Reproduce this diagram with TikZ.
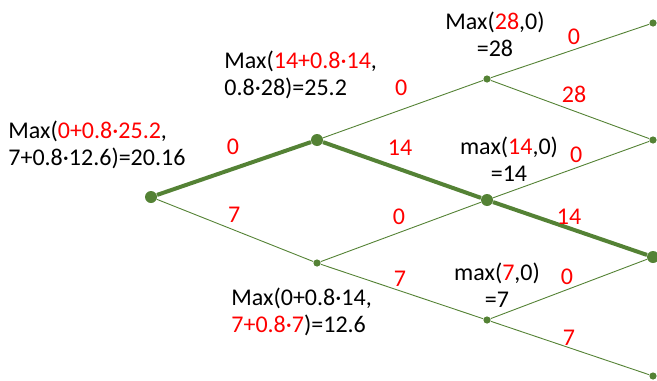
\documentclass[tikz,border=0pt]{standalone}
\usepackage{fontspec}
\setmainfont{Carlito}
\usepackage{xcolor}
\definecolor{treegreen}{RGB}{84,130,53}
\definecolor{payred}{RGB}{255,0,0}
\newcommand{\rd}[1]{\textcolor{payred}{#1}}

\begin{document}
\begin{tikzpicture}[x=0.5pt,y=-0.5pt,
    font=\fontsize{12}{13.5}\selectfont,
    dot/.style={circle,fill=treegreen,inner sep=0pt,minimum size=3.6pt},
    bigdot/.style={circle,fill=treegreen,inner sep=0pt,minimum size=6pt},
    thin edge/.style={draw=treegreen,line width=0.45pt},
    thick edge/.style={draw=treegreen,line width=2pt},
    pay/.style={text=payred,midway,inner sep=0pt},
    val/.style={align=left,anchor=west,inner sep=0pt},
    cval/.style={align=center,inner sep=0pt}]
    \useasboundingbox (0,0) rectangle (657,380);
    % tree nodes
    \node[bigdot] (root) at (151,197){};
    \node[bigdot] (u) at (317,140){};
    \node[dot] (d) at (317,263){};
    \node[dot] (uu) at (487,79){};
    \node[bigdot] (ud) at (487,200){};
    \node[dot] (dd) at (487,320){};
    \node[dot] (uuu) at (653,23){};
    \node[dot] (uud) at (653,140){};
    \node[bigdot] (udd) at (653,257){};
    \node[dot] (ddd) at (653,376){};
    % edges
    \draw[thick edge] (root) -- (u) node[pay,yshift=10.75pt,xshift=-0.5pt]{0};
    \draw[thin edge] (root) -- (d) node[pay,yshift=8pt,xshift=-0.5pt]{7};
    \draw[thin edge] (u) -- (uu) node[pay,yshift=10.75pt,xshift=-1pt]{0};
    \draw[thick edge] (u) -- (ud) node[pay,yshift=11pt,xshift=-1pt]{14};
    \draw[thin edge] (d) -- (ud) node[pay,yshift=7.5pt,xshift=-1pt]{0};
    \draw[thin edge] (d) -- (dd) node[pay,yshift=6.5pt,xshift=-1pt]{7};
    \draw[thin edge] (uu) -- (uuu) node[pay,yshift=7.25pt,xshift=2pt]{0};
    \draw[thin edge] (uu) -- (uud) node[pay,yshift=7.5pt,xshift=2pt]{28};
    \draw[thin edge] (ud) -- (uud) node[pay,yshift=7.5pt,xshift=2.5pt]{0};
    \draw[thick edge] (ud) -- (udd) node[pay,yshift=6pt,xshift=-0.5pt]{14};
    \draw[thin edge] (dd) -- (udd) node[pay,yshift=6pt,xshift=-1pt]{0};
    \draw[thin edge] (dd) -- (ddd) node[pay,yshift=5pt,xshift=-0.5pt]{7};
    % values
    \node[val] (rootval) at (8,145) {Max(\rd{0+0.8·25.2},\\7+0.8·12.6)=20.16};
    \node[val] (uval) at (224,75) {Max(\rd{14+0.8·14},\\0.8·28)=25.2};
    \node[val] (dval) at (231,312) {Max(0+0.8·14,\\\rd{7+0.8·7})=12.6};
    \node[cval] (uuval) at (495,34) {Max(\rd{28},0)\\=28};
    \node[cval] (udval) at (509,159) {max(\rd{14},0)\\=14};
    \node[cval] (ddval) at (497,285) {max(\rd{7},0)\\=7};
\end{tikzpicture}
\end{document}
